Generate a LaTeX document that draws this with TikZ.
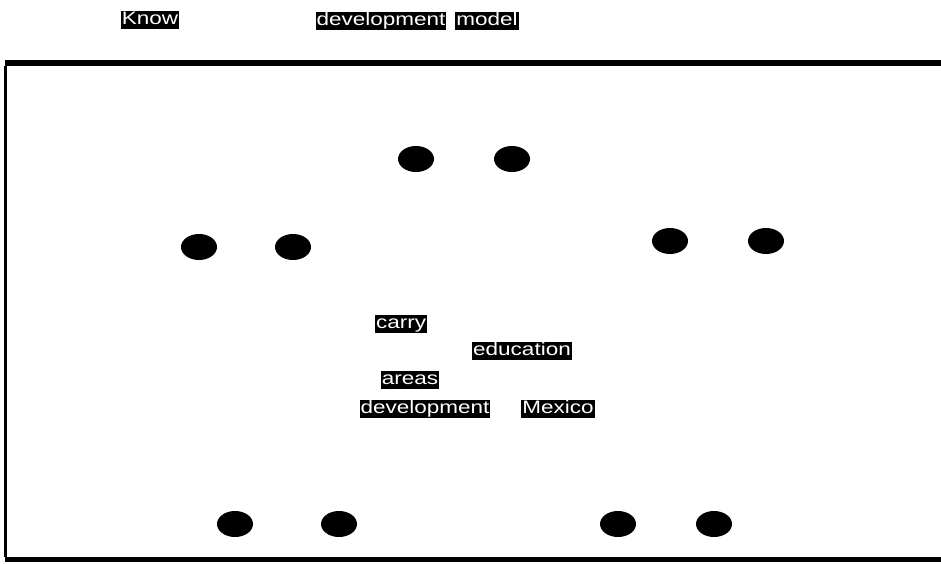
\documentclass[tikz,border=0pt]{standalone}
\usepackage{fontspec}
\usepackage{graphicx}
\setmainfont{Liberation Sans}
\newcommand{\widetext}[1]{\scalebox{1.25}[1]{#1}}
\tikzset{
  dot/.style={ellipse,fill=black,minimum width=36pt,minimum height=26pt,inner sep=0pt},
  word/.style={fill=black,text=white,inner sep=1pt,font=\fontsize{18}{18}\selectfont,text height=12.5pt,text depth=3.5pt}
}
\usetikzlibrary{shapes.geometric}
\begin{document}
\begin{tikzpicture}
    [x=1pt,y=-1pt]
    \useasboundingbox (0,0) rectangle (941,564);
    %frame
    \coordinate (tl) at (5,63);
    \coordinate (tr) at (945,63);
    \coordinate (bl) at (5,559);
    \coordinate (br) at (945,559);
    \draw[line width=6pt] (tl)--(tr);
    \draw[line width=5pt] (bl)--(br);
    \draw[line width=3pt] ([yshift=-3pt]tl)--([yshift=2pt]bl);
    %dots
    \node[dot] (t1) at (416,159) {};
    \node[dot] (t2) at (512,159) {};
    \node[dot] (l1) at (199,247) {};
    \node[dot] (l2) at (293,247) {};
    \node[dot] (r1) at (670,241) {};
    \node[dot] (r2) at (766,241) {};
    \node[dot] (b1) at (235,524) {};
    \node[dot] (b2) at (339,524) {};
    \node[dot] (b3) at (618,524) {};
    \node[dot] (b4) at (714,524) {};
    %labels
    \node[word] (know) at (150,20) {\widetext{Know}};
    \node[word] (dev1) at (381,21) {\widetext{development}};
    \node[word] (model) at (487,21) {\widetext{model}};
    \node[word] (carry) at (401,324) {\widetext{carry}};
    \node[word] (edu) at (522,351) {\widetext{education}};
    \node[word] (areas) at (410,380) {\widetext{areas}};
    \node[word] (dev2) at (425,409) {\widetext{development}};
    \node[word] (mex) at (558,409) {\widetext{Mexico}};
\end{tikzpicture}
\end{document}
